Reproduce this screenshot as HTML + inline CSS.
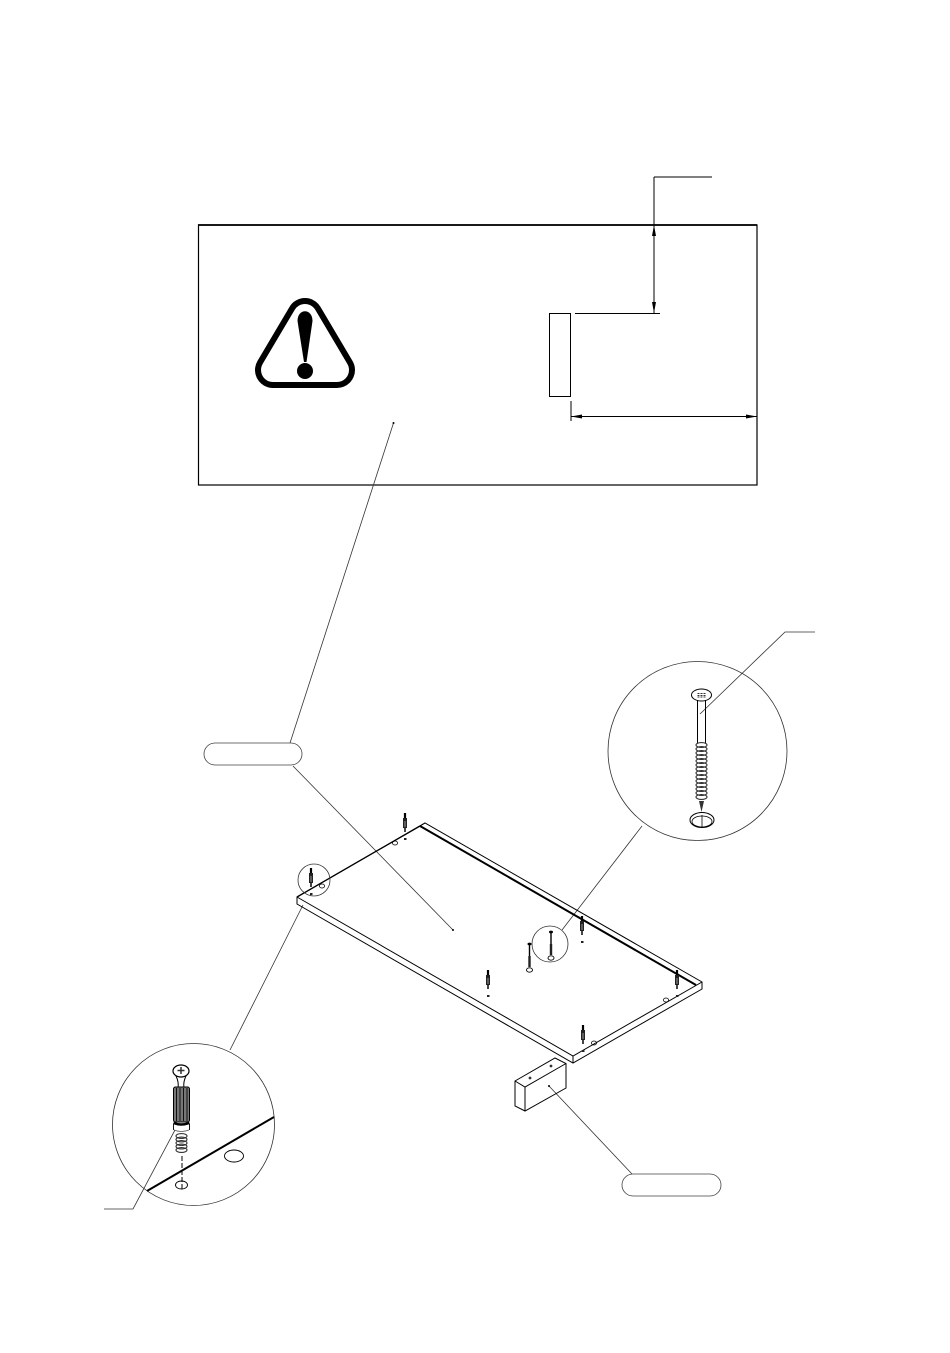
<!DOCTYPE html>
<html><head><meta charset="utf-8"><style>html,body{margin:0;padding:0;background:#fff}svg{display:block}</style></head>
<body>
<svg width="950" height="1353" viewBox="0 0 950 1353" xmlns="http://www.w3.org/2000/svg" fill="none" stroke="#000" stroke-width="1">
<defs>
<g id="fast"><path d="M0 0V5" stroke-width="2.2"/><path d="M0 5V15" stroke-width="4" stroke="#222"/><path d="M0 8V14" stroke-width="1" stroke="#999"/><path d="M0 15V19" stroke-width="2" stroke="#444"/><rect x="-1" y="25" width="2.500" height="2" fill="#222" stroke="none"/></g>
<g id="scr"><ellipse cx="0" cy="0" rx="2" ry="1.400" fill="#000" stroke="none"/><path d="M0 0V12" stroke-width="1.400"/><path d="M0 12V23" stroke-width="2.400" stroke="#222"/><ellipse cx="0" cy="26" rx="3" ry="2.200" stroke-width=".9"/></g>
<ellipse id="th" cx="0" cy="0" rx="5.500" ry="2.400" stroke-width="1.100" stroke="#333"/>
</defs>

<!-- top frame -->
<rect x="198.500" y="225" width="558.500" height="260" stroke-width="1.200"/>
<path d="M198 225H757" stroke-width="1.800"/>
<rect x="549.500" y="313.500" width="21" height="83" stroke-width="1"/>
<path d="M654 177H712M654 177V313M575 313.500H660" stroke-width="1"/>
<path d="M654 225l-2 11h4zM654 313l-2 -11h4z" fill="#000" stroke="none"/>
<path d="M571 416.500H757M571 401V421" stroke-width="1"/>
<path d="M571 416.500l11 -2v4zM757 416.500l-11 -2v4z" fill="#000" stroke="none"/>

<!-- warning -->
<path d="M305 316L273 370H337Z" fill="#000" stroke="#000" stroke-width="36" stroke-linejoin="round"/>
<path d="M305 316L273 370H337Z" fill="#fff" stroke="#fff" stroke-width="24" stroke-linejoin="round"/>
<path d="M297.500 321C297.500 308 312.500 308 312.500 321L306.500 362H304Z" fill="#000" stroke="none"/>
<circle cx="305" cy="371" r="8" fill="#000" stroke="none"/>

<!-- leaders -->
<path d="M393.500 423L290 743M293 766L453 930M549 1086L632 1174M642 826L562 930M815 632H785L700 714M230 1050L303 905M104 1209H133L175 1130" stroke="#333" stroke-width=".8"/>
<circle cx="393.500" cy="423" r="1" fill="#000" stroke="none"/>
<circle cx="453" cy="930" r="1" fill="#000" stroke="none"/>
<circle cx="549" cy="1086" r="1" fill="#000" stroke="none"/>

<!-- pills -->
<rect x="204" y="743" width="98" height="22" rx="11" stroke="#444" stroke-width=".8" fill="#fff"/>
<rect x="622" y="1174" width="99" height="22" rx="11" stroke="#444" stroke-width=".8" fill="#fff"/>

<!-- panel -->
<path d="M297 897L425 823L702 982V989L573 1063L297 904Z" stroke-width="1"/>
<path d="M297 897L573 1056L702 982" stroke-width="1"/>
<path d="M573 1056V1063" stroke-width="1"/>
<path d="M297 897L420 826" stroke-width="1.300"/>
<path d="M420 826L696 985" stroke-width="2"/>
<path d="M420 826L425 823" stroke-width="1"/>

<!-- fasteners on panel -->
<use href="#fast" x="405" y="813"/>
<use href="#fast" x="311" y="868"/>
<use href="#fast" x="488" y="970"/>
<use href="#fast" x="582" y="916"/>
<use href="#fast" x="677" y="970"/>
<use href="#fast" x="583" y="1025"/>
<use href="#scr" x="529.500" y="944"/>
<use href="#scr" x="551" y="932"/>
<ellipse cx="395" cy="843" rx="2.500" ry="2" stroke-width=".8"/>
<ellipse cx="322" cy="886" rx="2.500" ry="2" stroke-width=".8"/>
<ellipse cx="666" cy="1000" rx="2.500" ry="2" stroke-width=".8"/>
<ellipse cx="594" cy="1043" rx="2.500" ry="2" stroke-width=".8"/>
<circle cx="314" cy="880" r="16" stroke="#333" stroke-width=".8"/>
<circle cx="550" cy="944" r="18" stroke="#333" stroke-width=".8"/>

<!-- block -->
<path d="M515 1081L555 1058L566 1063.500V1088L525 1111L515 1106Z" stroke-width="1"/>
<path d="M515 1081L525 1087L566 1063.500M525 1087V1111" stroke-width="1"/>
<circle cx="530" cy="1078" r="1.400" fill="#333" stroke="none"/>
<circle cx="551" cy="1066" r="1.400" fill="#333" stroke="none"/>

<!-- right detail -->
<circle cx="697.500" cy="751" r="89.500" stroke="#333" stroke-width=".8"/>
<ellipse cx="701.500" cy="695" rx="10" ry="6" stroke-width="1"/>
<path d="M697.500 693.500h8M697.500 695.500h8M697.500 697h8" stroke="#333" stroke-width="1" stroke-dasharray="2 1"/>
<path d="M697.500 700V743M705.500 700V743" stroke-width="1"/>
<use href="#th" x="701.500" y="745"/><use href="#th" x="701.500" y="749"/><use href="#th" x="701.500" y="753"/><use href="#th" x="701.500" y="757"/>
<use href="#th" x="701.500" y="761"/><use href="#th" x="701.500" y="765"/><use href="#th" x="701.500" y="769"/><use href="#th" x="701.500" y="773"/>
<use href="#th" x="701.500" y="777"/><use href="#th" x="701.500" y="781"/><use href="#th" x="701.500" y="785"/><use href="#th" x="701.500" y="789"/>
<use href="#th" x="701.500" y="793"/><use href="#th" x="701.500" y="797"/>
<path d="M699 801L701.500 812L704 801Z" fill="#333" stroke="none"/>
<ellipse cx="702" cy="820" rx="12" ry="7.500" stroke-width="1"/>
<ellipse cx="702" cy="821.500" rx="10" ry="5.500" stroke-width=".8"/>
<path d="M702 815V827" stroke-width=".8"/>

<!-- left detail -->
<circle cx="193.500" cy="1124.500" r="81" stroke="#333" stroke-width=".8"/>
<path d="M147 1191L274 1117" stroke-width="2"/>
<ellipse cx="234" cy="1156" rx="9.500" ry="6" stroke-width=".9"/>
<ellipse cx="181.500" cy="1185" rx="6" ry="4" stroke-width=".9"/>
<path d="M182 1156V1190" stroke-width="1" stroke-dasharray="5 2"/>
<ellipse cx="181" cy="1071" rx="8" ry="6" stroke-width="1.200"/>
<path d="M181 1067v7M177.500 1070.500h7" stroke="#333" stroke-width="1.500"/>
<path d="M176 1076Q179 1082 178 1088M186 1076Q183 1082 184 1088" stroke-width="1"/>
<rect x="173.500" y="1087" width="16" height="35" rx="2" fill="#777" stroke="#000" stroke-width="1"/>
<path d="M176.500 1088V1121M180 1088V1121M183.500 1088V1121M187 1088V1121" stroke="#111" stroke-width="1"/>
<path d="M173.500 1123Q181 1126 189.500 1123" stroke-width="2.500"/>
<path d="M173.500 1124V1130M189.500 1124V1130" stroke-width=".9"/>
<path d="M174 1130Q181 1133 189 1130" stroke="#555" stroke-width=".8"/>
<use href="#th" x="181.500" y="1136"/><use href="#th" x="181.500" y="1139.500"/><use href="#th" x="181.500" y="1143"/><use href="#th" x="181.500" y="1146.500"/><use href="#th" x="181.500" y="1150"/>
</svg>
</body></html>
